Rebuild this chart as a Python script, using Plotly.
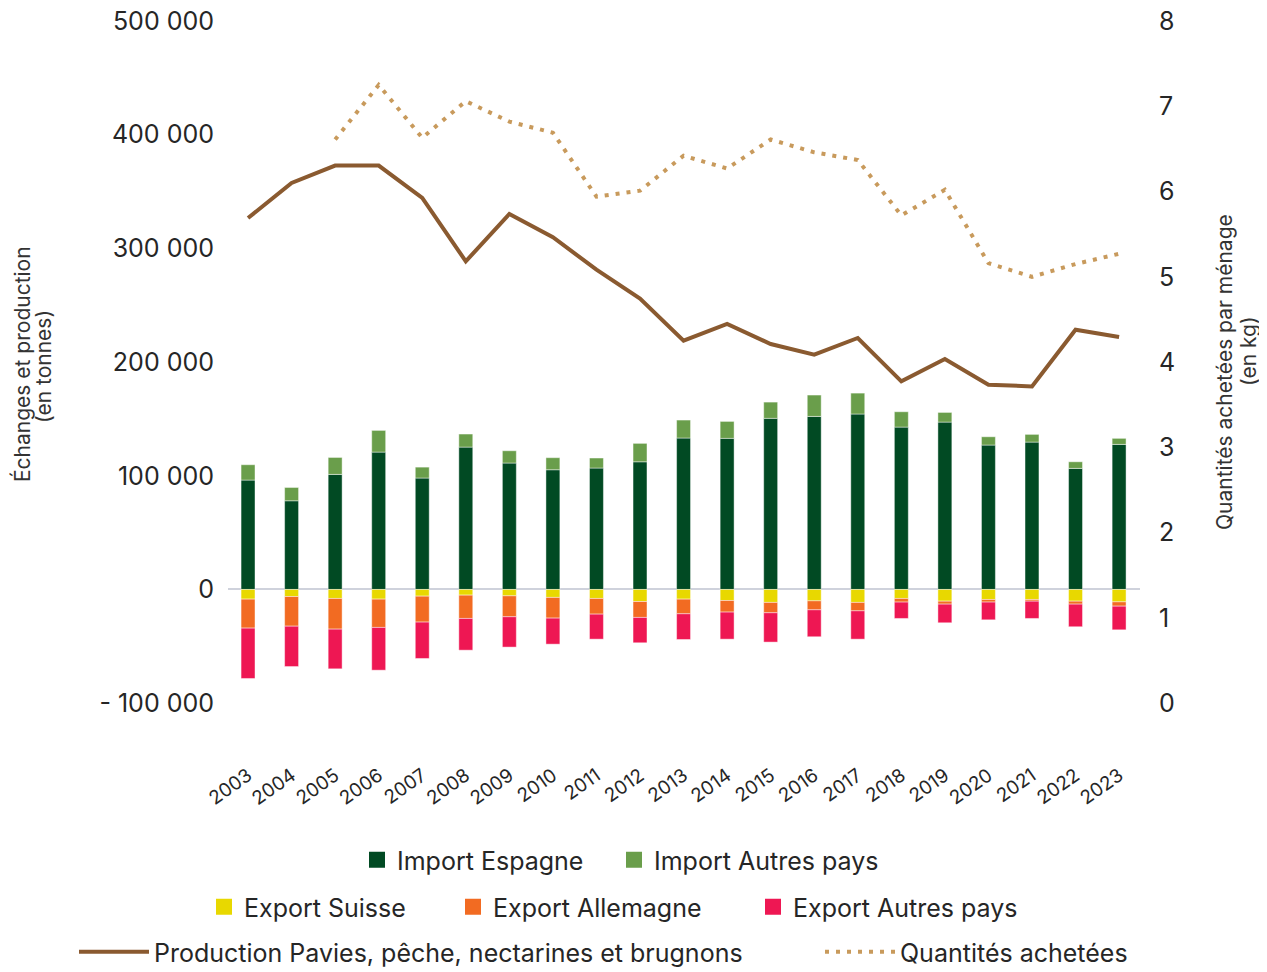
import plotly.graph_objects as go

years = [str(y) for y in range(2003, 2024)]

import_espagne = [96200, 78000, 101200, 120800, 98000, 125200, 111200, 105300, 106800, 112300,
                  133200, 132900, 150500, 152200, 154300, 142800, 147200, 127000, 129600, 106500, 127600]
import_autres = [13500, 11700, 14900, 19100, 9600, 11500, 10800, 10600, 8800, 16200,
                 15800, 14900, 14300, 18800, 18400, 13500, 8500, 7300, 6800, 5800, 5300]
export_suisse = [-8500, -6200, -7900, -8500, -5900, -5000, -5600, -7000, -7900, -10600,
                 -8500, -9700, -11400, -10000, -11400, -7900, -10300, -8800, -8800, -10300, -10900]
export_allemagne = [-25500, -26100, -27000, -24900, -22800, -20500, -18400, -18200, -13800, -14000,
                    -12900, -10200, -9100, -7900, -7400, -3200, -2600, -2300, -1500, -2600, -3800]
export_autres = [-44300, -35500, -34900, -37600, -32000, -27900, -26700, -22900, -22000, -22300,
                 -22600, -23800, -25800, -23700, -24900, -14400, -16400, -15600, -15200, -19900, -20800]
production = [326700, 357500, 372800, 372800, 344400, 288600, 330300, 309800, 281300, 255800,
              218800, 233500, 215900, 206500, 221200, 183000, 202700, 180100, 178600, 228500, 222000]
quantites = [None, None, 6.61, 7.25, 6.63, 7.06, 6.82, 6.69, 5.94, 6.01,
             6.42, 6.27, 6.61, 6.46, 6.37, 5.72, 6.02, 5.16, 5.00, 5.15, 5.27]

left_ticks = [-100000, 0, 100000, 200000, 300000, 400000, 500000]
left_labels = ["- 100 000", "0", "100 000", "200 000", "300 000", "400 000", "500 000"]
right_ticks = [0, 1, 2, 3, 4, 5, 6, 7, 8]

FONT = "Inter"
TXT = "#262626"
OFF = 8                      # page body margin added by the browser
W, H = 1267 - OFF, 972 - OFF
edge = dict(color="rgba(255,255,255,0.55)", width=0.8)

plot_left, plot_right, plot_top, plot_bottom = 228, 1140, 21, 760


def cx(px):
    return (px - OFF) / W


def cy(py):
    return 1 - (py - OFF) / H


def px_paper(px):
    return (px - plot_left) / (plot_right - plot_left)


def py_paper(py):
    return (plot_bottom - py) / (plot_bottom - plot_top)


# (name, values, colour, legend id, text start px, row centre px)
bar_series = [
    ("Import Espagne", import_espagne, "#014A23", "legend", 397, 860),
    ("Import Autres pays", import_autres, "#6A9E4B", "legend2", 654, 860),
    ("Export Suisse", export_suisse, "#E8D800", "legend3", 244, 907),
    ("Export Allemagne", export_allemagne, "#F26B22", "legend4", 493, 907),
    ("Export Autres pays", export_autres, "#EE1753", "legend5", 793, 907),
]

fig = go.Figure()
legend_layouts = {}
legend_common = dict(orientation="h", xanchor="left", yanchor="middle",
                     xref="container", yref="container",
                     font=dict(family=FONT, size=25, color=TXT), bgcolor="rgba(0,0,0,0)",
                     itemsizing="trace")

for name, vals, color, leg, tx, ly in bar_series:
    fig.add_bar(x=years, y=vals, name=name, marker=dict(color=color, line=edge),
                showlegend=False, legendgroup=name)
    fig.add_scatter(x=[None], y=[None], name=name, mode="markers", legendgroup=name,
                    marker=dict(symbol="square", size=16, color=color), legend=leg)
    legend_layouts[leg] = dict(legend_common, x=cx(tx - 40), y=cy(ly))

fig.add_scatter(x=years, y=production, name="Production Pavies, pêche, nectarines et brugnons",
                mode="lines", line=dict(color="#8A5A30", width=4), legend="legend6")
fig.add_scatter(x=years, y=quantites, name="Quantités achetées", yaxis="y2",
                mode="lines", line=dict(color="#C89A5C", width=4, dash="4px,7px"), legend="legend7")
legend_layouts["legend6"] = dict(legend_common, x=cx(154 - 80), y=cy(952), itemwidth=70)
legend_layouts["legend7"] = dict(legend_common, x=cx(900 - 80), y=cy(952), itemwidth=70)

title_font = dict(family=FONT, size=21, color="#333333")
axis_titles = [
    ("Échanges et production", 22, 364),
    ("(en tonnes)", 43, 367),
    ("Quantités achetées par ménage", 1224, 372),
    ("(en kg)", 1248, 351),
]

fig.update_layout(
    width=W, height=H,
    margin=dict(l=plot_left - OFF, r=W - (plot_right - OFF), t=plot_top - OFF, b=H - (plot_bottom - OFF)),
    paper_bgcolor="white", plot_bgcolor="white",
    barmode="relative", bargap=0.68,
    font=dict(family=FONT, color=TXT),
    xaxis=dict(type="category", range=[-0.46, 20.48], showgrid=False, showline=False,
               tickangle=-35, tickfont=dict(family=FONT, size=19, color=TXT), ticks="",
               automargin=False, ticklabeloverflow="allow"),
    yaxis=dict(range=[-150000, 500000], tickvals=left_ticks, ticktext=left_labels, showgrid=False,
               zeroline=True, zerolinecolor="#cfd2dc", zerolinewidth=1.5, showline=False,
               ticks="outside", ticklen=8, tickcolor="rgba(0,0,0,0)", automargin=False,
               ticklabeloverflow="allow",
               tickfont=dict(family=FONT, size=25, color=TXT)),
    yaxis2=dict(range=[-0.6667, 8], tickvals=right_ticks, overlaying="y", side="right",
                showgrid=False, zeroline=False, showline=False, automargin=False,
                ticks="outside", ticklen=13, tickcolor="rgba(0,0,0,0)",
                ticklabeloverflow="allow",
                tickfont=dict(family=FONT, size=25, color=TXT)),
    annotations=[
        dict(text=t, xref="paper", yref="paper", x=px_paper(ax), y=py_paper(ay),
             xanchor="center", yanchor="middle", textangle=-90, showarrow=False, font=title_font)
        for t, ax, ay in axis_titles
    ],
    **legend_layouts,
)

fig.write_html("out.html")
